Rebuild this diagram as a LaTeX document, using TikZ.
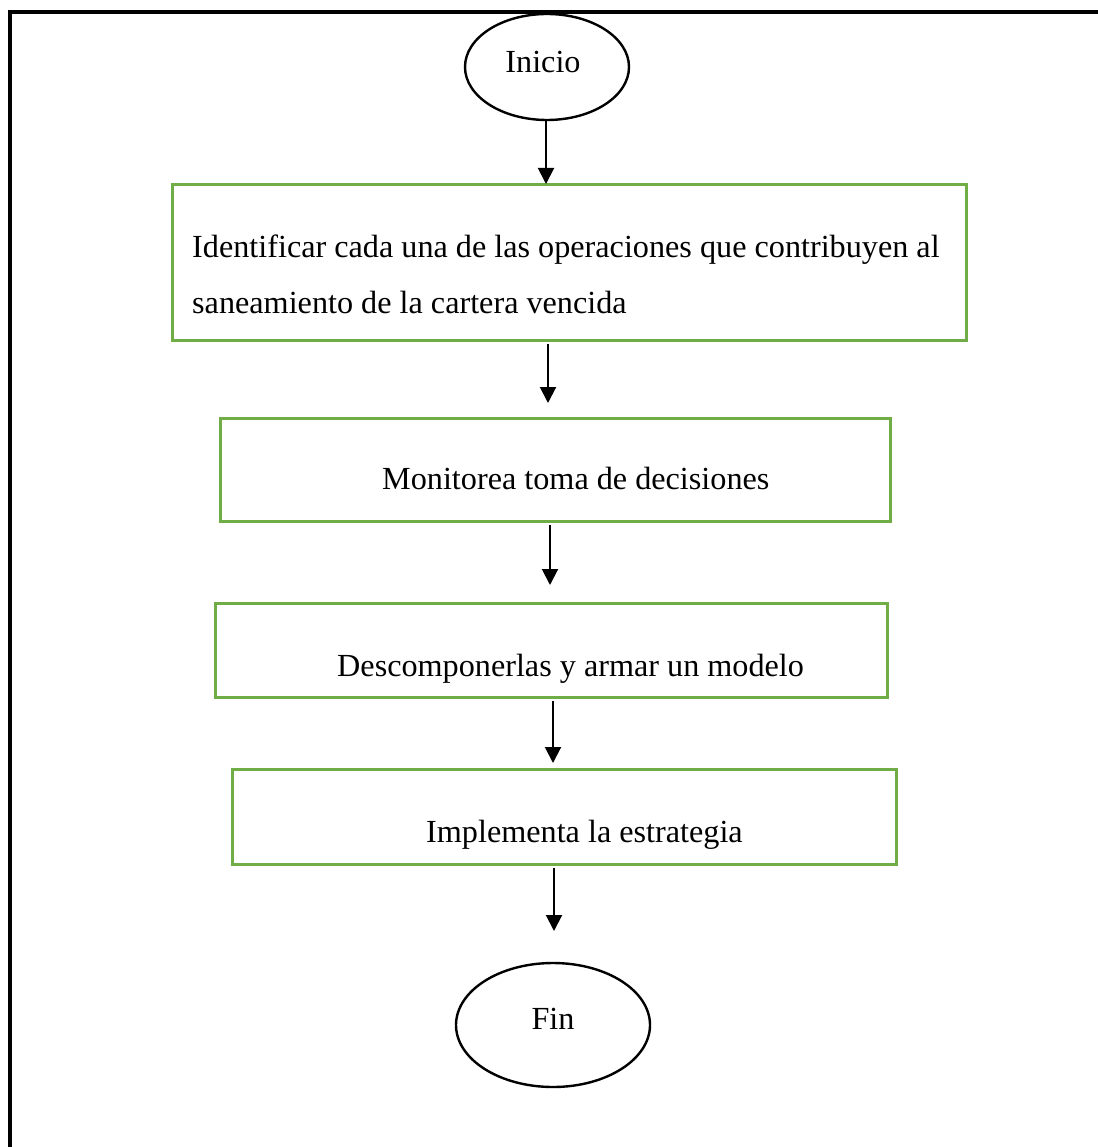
\documentclass[tikz,border=0pt]{standalone}
\usepackage{fontspec}
\setmainfont{Liberation Serif}
\usetikzlibrary{shapes.geometric,arrows.meta}
\definecolor{boxgreen}{RGB}{112,173,71}
\begin{document}
\begin{tikzpicture}[x=1pt,y=-1pt,
  txt/.style={inner sep=0pt,font=\fontsize{32.2}{38}\selectfont},
  stepbox/.style={draw=boxgreen,line width=3pt,rectangle,inner sep=0pt},
  terminal/.style={draw=black,line width=2.4pt,ellipse,inner sep=0pt},
  flow/.style={draw=black,line width=2pt,-{Triangle[width=16pt,length=16pt]}}]
\useasboundingbox (0,0) rectangle (1097,1147);
% open frame: top and left edges
\draw[line width=4pt] (10,1150) -- (10,12) -- (1100,12);

% terminals
\node[terminal,minimum width=164pt,minimum height=106pt] (ini) at (547,67) {};
\node[txt,anchor=base] (initxt) at (543,73) {Inicio};
\node[terminal,minimum width=194pt,minimum height=124pt] (fin) at (553,1025) {};
\node[txt,anchor=base] (fintxt) at (553,1029) {Fin};

% process boxes
\node[stepbox,minimum width=794pt,minimum height=155pt] (b1) at (569,262.5) {};
\node[txt,anchor=base west] (b1l1) at (192,258) {Identificar cada una de las operaciones que contribuyen al};
\node[txt,anchor=base west] (b1l2) at (192,313) {saneamiento de la cartera vencida};

\node[stepbox,minimum width=670pt,minimum height=103pt] (b2) at (555,469.5) {};
\node[txt,anchor=base west] (b2t) at (382,489) {Monitorea toma de decisiones};

\node[stepbox,minimum width=672pt,minimum height=94pt] (b3) at (551,650.5) {};
\node[txt,anchor=base west] (b3t) at (337,676) {Descomponerlas y armar un modelo};

\node[stepbox,minimum width=664pt,minimum height=95pt] (b4) at (564,816.5) {};
\node[txt,anchor=base west] (b4t) at (426,842) {Implementa la estrategia};

% arrow tips
\coordinate (e1) at (546,184);
\coordinate (e2) at (548,403);
\coordinate (e3) at (550,585);
\coordinate (e4) at (553,763);
\coordinate (e5) at (554,931);

\draw[flow] (ini.south -| e1) -- (e1);
\draw[flow] (b1.south -| e2) ++(0,2) -- (e2);
\draw[flow] (b2.south -| e3) ++(0,2) -- (e3);
\draw[flow] (b3.south -| e4) ++(0,2) -- (e4);
\draw[flow] (b4.south -| e5) ++(0,2) -- (e5);
\end{tikzpicture}
\end{document}
